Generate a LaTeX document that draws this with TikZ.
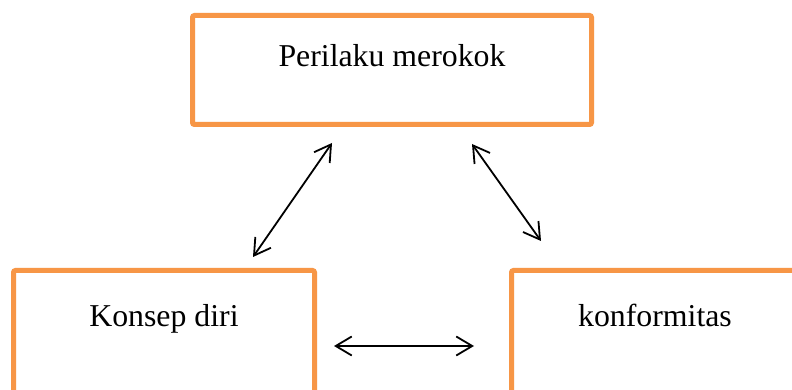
\documentclass[tikz,border=0pt]{standalone}
\usepackage{fontspec}
\setmainfont{Liberation Serif}
\usetikzlibrary{arrows.meta}
\definecolor{boxorange}{RGB}{247,150,70}
\begin{document}
\begin{tikzpicture}[x=1pt,y=1pt,
  box/.style={draw=boxorange, line width=5pt, rounded corners=2pt, fill=white,
    inner sep=0pt, font=\fontsize{31.8}{38}\selectfont},
  link/.style={line width=1.8pt, {Straight Barb[length=16pt,width=19pt]}-{Straight Barb[length=16pt,width=19pt]}}]
  \clip (0,0) rectangle (792,390);
  \fill[white] (0,0) rectangle (792,390);
  % the three factor boxes
  \node[box, minimum width=399pt, minimum height=109pt, text height=20pt, text depth=26pt]
    (perilaku) at (392,320) {Perilaku merokok};
  \node[box, minimum width=301pt, minimum height=130pt, text height=20pt, text depth=37pt]
    (konsep) at (164,54.5) {Konsep diri};
  \node[box, minimum width=287pt, minimum height=130pt, text height=20pt, text depth=37pt]
    (konform) at (655,54.5) {konformitas};
  % ends of the two-way arrows
  \coordinate (pk) at (332,247);
  \coordinate (kp) at (253,133);
  \coordinate (pf) at (472,246);
  \coordinate (fp) at (541,149);
  \coordinate (kf) at (334,44);
  \coordinate (fk) at (474,44);
  \draw[link] (pk) -- (kp);
  \draw[link] (pf) -- (fp);
  \draw[link] (kf) -- (fk);
\end{tikzpicture}
\end{document}
